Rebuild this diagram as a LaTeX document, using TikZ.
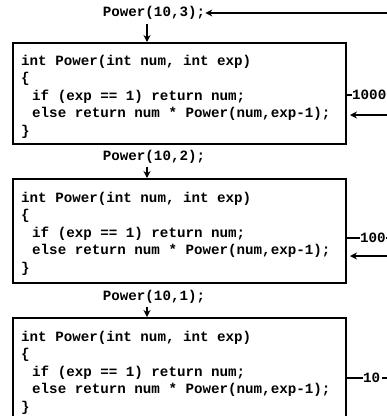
\documentclass[tikz,border=0pt]{standalone}
\usepackage{fontspec}
\setmonofont{Liberation Mono}
\usetikzlibrary{arrows.meta}
\newcommand{\codefont}{\ttfamily\bfseries\fontsize{14.2bp}{17.5bp}\selectfont}
\newcommand{\ind}{\hspace*{11bp}}
\tikzset{
  codebox/.style={draw, line width=1.6pt, minimum width=333bp, anchor=north west, inner sep=0},
  code/.style={font=\codefont, align=left, anchor=north west, inner sep=0},
  call/.style={font=\codefont, inner sep=0},
  val/.style={font=\codefont, inner sep=0, anchor=west},
  arr/.style={line width=1.5pt, -{Stealth[length=7bp,width=7bp]}},
  ln/.style={line width=1.5pt}
}
\begin{document}
\begin{tikzpicture}[x=1bp,y=-1bp]
\useasboundingbox (0,0) rectangle (387,416);
\clip (0,0) rectangle (387,416);
% level 1
\node[call] (c1) at (154,13) {Power(10,3);};
\node[codebox, minimum height=101bp] (b1) at (12,42) {};
\node[code] (t1) at (21,55) {int Power(int num, int exp)\\\{\\\ind if (exp == 1) return num;\\\ind else return num * Power(num,exp-1);\\\}};
\coordinate (r1) at (387,13);
\coordinate (s1) at (387,115);
\coordinate (e1) at (350,115);
\draw[arr] (r1) -- (c1.east);
\draw[arr] (c1.south -| 147,0) ++(0,4) coordinate (d1) -- (d1 |- b1.north);
\node[val] (v1) at (352,95) {1000};
\draw[ln] (b1.east |- v1) -- (v1.west);
\draw[arr] (s1) -- (e1);
% level 2
\node[call] (c2) at (154,157) {Power(10,2);};
\node[codebox, minimum height=104bp] (b2) at (12,178) {};
\node[code] (t2) at (21,192) {int Power(int num, int exp)\\\{\\\ind if (exp == 1) return num;\\\ind else return num * Power(num,exp-1);\\\}};
\coordinate (s2) at (387,256);
\coordinate (e2) at (350,256);
\coordinate (x2) at (387,238);
\draw[arr] (c2.south -| 147,0) ++(0,3) coordinate (d2) -- (d2 |- b2.north);
\node[val] (v2) at (360,238) {100};
\draw[ln] (b2.east |- v2) -- (v2.west);
\draw[ln] (v2.east) -- (x2);
\draw[arr] (s2) -- (e2);
% level 3
\node[call] (c3) at (154,297) {Power(10,1);};
\node[codebox, minimum height=110bp] (b3) at (12,317) {};
\node[code] (t3) at (21,331) {int Power(int num, int exp)\\\{\\\ind if (exp == 1) return num;\\\ind else return num * Power(num,exp-1);\\\}};
\coordinate (x3) at (387,378);
\draw[arr] (c3.south -| 147,0) ++(0,3) coordinate (d3) -- (d3 |- b3.north);
\node[val] (v3) at (363,378) {10};
\draw[ln] (b3.east |- v3) -- (v3.west);
\draw[ln] (v3.east) ++(2,0) -- (x3);
\end{tikzpicture}
\end{document}
